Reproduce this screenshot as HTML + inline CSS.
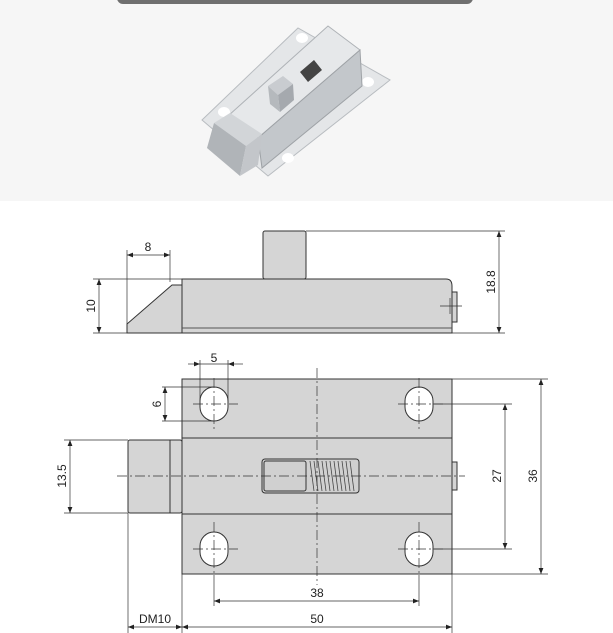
<!DOCTYPE html>
<html><head><meta charset="utf-8"><style>
html,body{margin:0;padding:0;background:#fff;}
svg{display:block;}
text{font-family:"Liberation Sans",sans-serif;font-size:12px;fill:#222;}
</style></head><body>
<svg width="613" height="633" viewBox="0 0 613 633" xmlns="http://www.w3.org/2000/svg">
<defs>
<marker id="a" viewBox="0 0 10 10" refX="10" refY="5" markerWidth="8" markerHeight="6" orient="auto-start-reverse" markerUnits="userSpaceOnUse"><path d="M0,1 L10,5 L0,9 z" fill="#222"/></marker>
</defs>
<rect x="0" y="0" width="613" height="201" fill="#f6f6f6"/>
<rect x="117" y="-10" width="356" height="14" rx="6" fill="#6f6f6f"/>
<!-- plate -->
<polygon points="202,120 298,28 390,80 268,176" fill="#e4e6e8" stroke="#b8bcc0"/>
<ellipse cx="224" cy="112" rx="6" ry="5" fill="#fff"/>
<ellipse cx="302" cy="38" rx="6" ry="5" fill="#fff"/>
<ellipse cx="368" cy="82" rx="6" ry="5" fill="#fff"/>
<ellipse cx="288" cy="158" rx="6" ry="5" fill="#fff"/>
<!-- body -->
<polygon points="228,116 328,26 360,50 258,138" fill="#e6e8ea" stroke="#aeb2b6"/>
<polygon points="258,138 360,50 362,86 262,168" fill="#c3c7cb" stroke="#9ea2a6"/>
<polygon points="300,72 314,60 322,70 308,82" fill="#444"/>
<!-- knob -->
<polygon points="268,86 283,76 293,84 278,95" fill="#c9ccd0"/>
<polygon points="278,95 293,84 294,100 280,112" fill="#a5a9ae"/>
<polygon points="268,86 278,95 280,112 270,104" fill="#b5b9bd"/>
<!-- bolt -->
<polygon points="214,123 230,113 262,134 246,146" fill="#d2d5d8"/>
<polygon points="207,148 214,123 246,146 240,176" fill="#b0b4b8"/>
<polygon points="246,146 262,134 258,165 240,176" fill="#c3c6ca"/>

<!-- side view -->
<g stroke="#333" stroke-width="1" fill="#d5d5d5">
<rect x="263" y="231" width="43" height="48" rx="2"/>
<polygon points="127,333 127,324 172,285 182,285 182,333"/>
<path d="M182,279 H446 Q452,279 452,286 V333 H182 Z"/>
<rect x="452" y="292" width="5" height="30"/>
</g>
<line x1="182" y1="328" x2="452" y2="328" stroke="#555"/>
<line x1="440" y1="306" x2="462" y2="306" stroke="#333" stroke-width="0.7"/>
<line x1="450" y1="298" x2="450" y2="314" stroke="#333" stroke-width="0.7"/>
<g stroke="#333" stroke-width="0.7" fill="none">
<line x1="127" y1="250" x2="127" y2="333"/>
<line x1="170" y1="250" x2="170" y2="282"/>
<line x1="127" y1="255" x2="170" y2="255" marker-start="url(#a)" marker-end="url(#a)"/>
<line x1="93" y1="279" x2="182" y2="279"/>
<line x1="93" y1="333" x2="127" y2="333"/>
<line x1="99" y1="279" x2="99" y2="333" marker-start="url(#a)" marker-end="url(#a)"/>
<line x1="306" y1="231" x2="505" y2="231"/>
<line x1="452" y1="333" x2="505" y2="333"/>
<line x1="499" y1="231" x2="499" y2="333" marker-start="url(#a)" marker-end="url(#a)"/>
</g>
<text x="148" y="251" text-anchor="middle">8</text>
<text transform="translate(95,306) rotate(-90)" text-anchor="middle">10</text>
<text transform="translate(495,282) rotate(-90)" text-anchor="middle">18.8</text>

<!-- top view -->
<g stroke="#333" stroke-width="1" fill="#d5d5d5">
<rect x="182" y="379" width="270" height="195"/>
<rect x="128" y="440" width="54" height="73" rx="2"/>
<rect x="452" y="462" width="5" height="28"/>
</g>
<line x1="170" y1="440" x2="170" y2="513" stroke="#333"/>
<line x1="182" y1="438" x2="452" y2="438" stroke="#333"/>
<line x1="182" y1="514" x2="452" y2="514" stroke="#333"/>
<g fill="#fff" stroke="#333">
<rect x="200" y="387" width="28" height="34" rx="14"/>
<rect x="405" y="387" width="28" height="34" rx="14"/>
<rect x="200" y="532" width="28" height="34" rx="14"/>
<rect x="405" y="532" width="28" height="34" rx="14"/>
</g>
<rect x="262" y="459" width="97" height="34" rx="3" fill="#d0d0d0" stroke="#333"/>
<rect x="264" y="461" width="42" height="30" rx="2" fill="none" stroke="#333"/>
<g stroke="#444" stroke-width="0.8">
<line x1="310" y1="461" x2="314" y2="491"/><line x1="314" y1="461" x2="318" y2="491"/>
<line x1="318" y1="461" x2="322" y2="491"/><line x1="322" y1="461" x2="326" y2="491"/>
<line x1="326" y1="461" x2="330" y2="491"/><line x1="330" y1="461" x2="334" y2="491"/>
<line x1="334" y1="461" x2="338" y2="491"/><line x1="338" y1="461" x2="342" y2="491"/>
<line x1="342" y1="461" x2="346" y2="491"/><line x1="346" y1="461" x2="350" y2="491"/>
<line x1="350" y1="461" x2="354" y2="491"/>
</g>
<g stroke="#333" stroke-width="0.7" stroke-dasharray="10,3,2,3" fill="none">
<line x1="117" y1="476" x2="465" y2="476"/>
<line x1="317" y1="368" x2="317" y2="585"/>
<line x1="193" y1="404" x2="238" y2="404"/>
<line x1="398" y1="404" x2="443" y2="404"/>
<line x1="193" y1="549" x2="238" y2="549"/>
<line x1="398" y1="549" x2="443" y2="549"/>
<line x1="214" y1="378" x2="214" y2="430"/>
<line x1="419" y1="378" x2="419" y2="430"/>
<line x1="214" y1="522" x2="214" y2="575"/>
<line x1="419" y1="522" x2="419" y2="575"/>
</g>
<g stroke="#333" stroke-width="0.7" fill="none">
<line x1="200" y1="360" x2="200" y2="404"/>
<line x1="228" y1="360" x2="228" y2="404"/>
<line x1="188" y1="364" x2="200" y2="364" marker-end="url(#a)"/>
<line x1="243" y1="364" x2="228" y2="364" marker-end="url(#a)"/>
<line x1="200" y1="364" x2="228" y2="364"/>
<line x1="162" y1="387" x2="214" y2="387"/>
<line x1="162" y1="421" x2="214" y2="421"/>
<line x1="165" y1="387" x2="165" y2="421" marker-start="url(#a)" marker-end="url(#a)"/>
<line x1="64" y1="440" x2="128" y2="440"/>
<line x1="64" y1="513" x2="128" y2="513"/>
<line x1="70" y1="440" x2="70" y2="513" marker-start="url(#a)" marker-end="url(#a)"/>
<line x1="433" y1="404" x2="512" y2="404"/>
<line x1="433" y1="549" x2="512" y2="549"/>
<line x1="505" y1="404" x2="505" y2="549" marker-start="url(#a)" marker-end="url(#a)"/>
<line x1="452" y1="379" x2="548" y2="379"/>
<line x1="452" y1="574" x2="548" y2="574"/>
<line x1="541" y1="379" x2="541" y2="574" marker-start="url(#a)" marker-end="url(#a)"/>
<line x1="214" y1="575" x2="214" y2="606"/>
<line x1="419" y1="575" x2="419" y2="606"/>
<line x1="214" y1="601" x2="419" y2="601" marker-start="url(#a)" marker-end="url(#a)"/>
<line x1="128" y1="513" x2="128" y2="633"/>
<line x1="182" y1="574" x2="182" y2="633"/>
<line x1="452" y1="574" x2="452" y2="633"/>
<line x1="128" y1="627" x2="182" y2="627" marker-start="url(#a)" marker-end="url(#a)"/>
<line x1="182" y1="627" x2="452" y2="627" marker-start="url(#a)" marker-end="url(#a)"/>
</g>
<text x="214" y="362" text-anchor="middle">5</text>
<text transform="translate(161,404) rotate(-90)" text-anchor="middle">6</text>
<text transform="translate(66,476) rotate(-90)" text-anchor="middle">13.5</text>
<text transform="translate(501,476) rotate(-90)" text-anchor="middle">27</text>
<text transform="translate(537,476) rotate(-90)" text-anchor="middle">36</text>
<text x="317" y="597" text-anchor="middle">38</text>
<text x="155" y="623" text-anchor="middle">DM10</text>
<text x="317" y="623" text-anchor="middle">50</text>
</svg>
</body></html>
